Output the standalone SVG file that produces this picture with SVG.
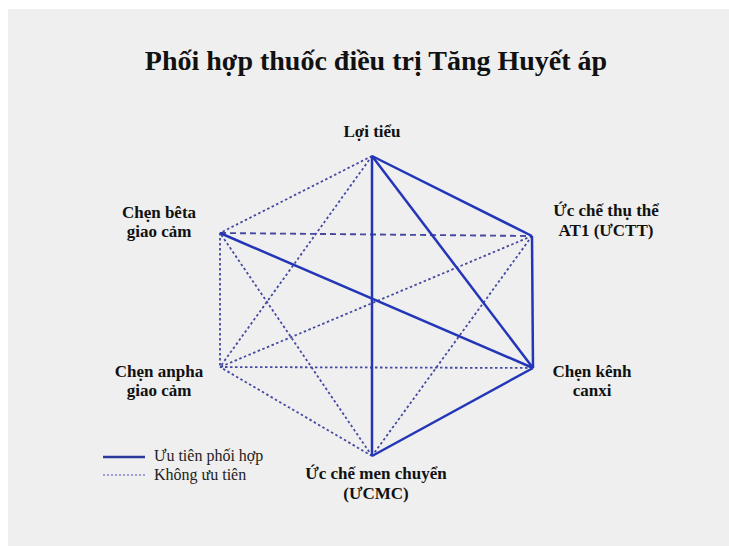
<svg xmlns="http://www.w3.org/2000/svg" width="729" height="546" viewBox="0 0 729 546">
<style>
.t{font-family:"Liberation Serif","Times New Roman",serif;font-weight:bold;fill:#111}
.lab{font-size:17px;text-anchor:middle}
.leg{font-family:"Liberation Serif","Times New Roman",serif;font-size:16px;fill:#222}
.solid{stroke:#2436b8;stroke-width:2.5;fill:none}
.dot{stroke:#454aa0;stroke-width:1.8;stroke-dasharray:2.5 2.5;fill:none}
.dash{stroke:#454aa0;stroke-width:1.9;stroke-dasharray:6 4;fill:none}
</style>
<rect x="0" y="0" width="729" height="546" fill="#ffffff"/>
<rect x="8" y="9" width="721" height="537" fill="#efefef"/>
<text class="t" x="376" y="70" font-size="28" text-anchor="middle">Phối hợp thuốc điều trị Tăng Huyết áp</text>
<g id="connectors">
<line class="dot" x1="372" y1="156" x2="220" y2="233"/>
<line class="dot" x1="372" y1="156" x2="220" y2="367"/>
<line class="dot" x1="532" y1="236" x2="372" y2="456"/>
<line class="dot" x1="532" y1="236" x2="220" y2="367"/>
<line class="dash" x1="220" y1="233" x2="532" y2="236"/>
<line class="dot" x1="220" y1="367" x2="533" y2="368"/>
<line class="dot" x1="372" y1="456" x2="220" y2="367"/>
<line class="dot" x1="372" y1="456" x2="220" y2="233"/>
<line class="dot" x1="220" y1="233" x2="220" y2="367"/>
<line class="solid" x1="372" y1="156" x2="372" y2="456"/>
<line class="solid" x1="372" y1="156" x2="533" y2="368"/>
<line class="solid" x1="372" y1="156" x2="532" y2="236"/>
<line class="solid" x1="532" y1="236" x2="533" y2="368"/>
<line class="solid" x1="533" y1="368" x2="372" y2="456"/>
<line class="solid" x1="220" y1="233" x2="533" y2="368"/>
</g>
<g id="loi-tieu"><text class="t lab" x="372" y="137">Lợi tiểu</text></g>
<g id="uctt"><text class="t lab" x="606" y="216">Ức chế thụ thể</text><text class="t lab" x="606" y="236">AT1 (ƯCTT)</text></g>
<g id="chen-kenh-canxi"><text class="t lab" x="592" y="377">Chẹn kênh</text><text class="t lab" x="592" y="396">canxi</text></g>
<g id="ucmc"><text class="t lab" x="376" y="479">Ức chế men chuyển</text><text class="t lab" x="376" y="499">(ƯCMC)</text></g>
<g id="chen-anpha"><text class="t lab" x="159" y="377">Chẹn anpha</text><text class="t lab" x="159" y="396">giao cảm</text></g>
<g id="chen-beta"><text class="t lab" x="159" y="218">Chẹn bêta</text><text class="t lab" x="159" y="237">giao cảm</text></g>
<g id="legend">
<line x1="103" y1="457" x2="145" y2="457" stroke="#2a3a9a" stroke-width="2.5"/>
<text class="leg" x="154" y="461">Ưu tiên phối hợp</text>
<line x1="103" y1="475" x2="145" y2="475" stroke="#4a4fc8" stroke-width="1.2" stroke-dasharray="2 2"/>
<text class="leg" x="154" y="480">Không ưu tiên</text>
</g>
</svg>
